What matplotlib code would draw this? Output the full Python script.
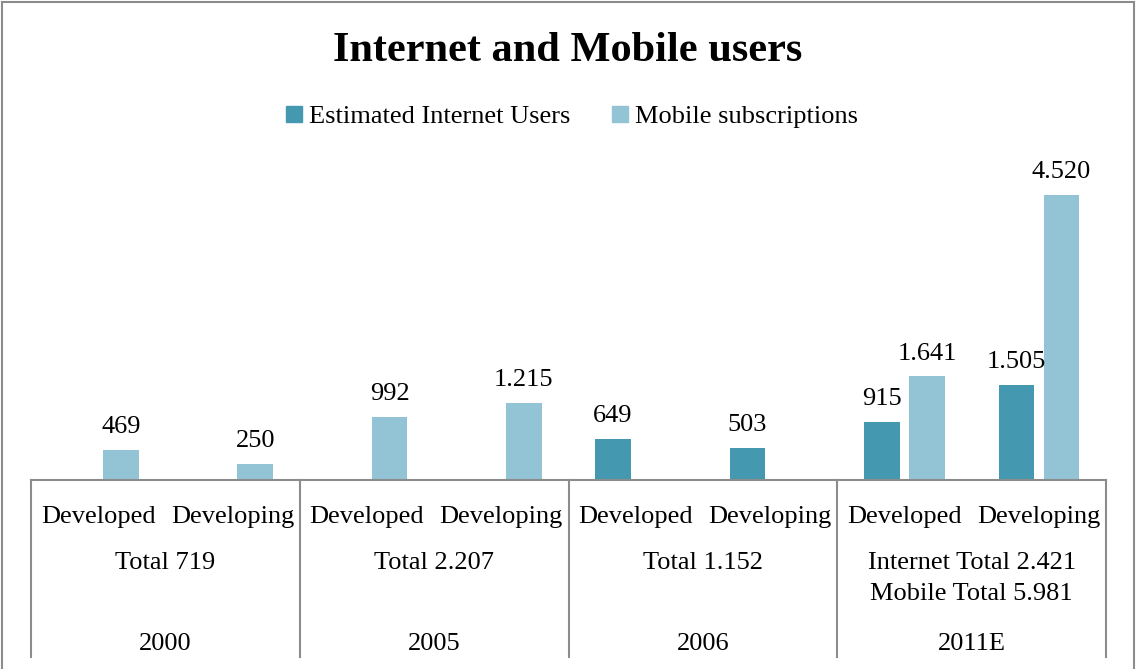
import numpy as np
import matplotlib
matplotlib.use("Agg")
import matplotlib.pyplot as plt
import matplotlib.patches as patches
from matplotlib.lines import Line2D

plt.rcParams["font.family"] = ["Liberation Serif", "DejaVu Serif"]

# values in millions, one slot per (year, group)
groups = ["Developed", "Developing"] * 4
years = ["2000", "2005", "2006", "2011E"]
totals = ["Total 719", "Total 2.207", "Total 1.152",
          "Internet Total 2.421\nMobile Total 5.981"]
internet = [np.nan, np.nan, np.nan, np.nan, 649, 503, 915, 1505]
mobile = [469, 250, 992, 1215, np.nan, np.nan, 1641, 4520]

c_internet = "#4499B0"
c_mobile = "#93C4D5"
grid_c = "#8C8C8C"

W, H = 1136, 669
fig = plt.figure(figsize=(W / 100, H / 100), dpi=100, facecolor="white")

# plot area: x from 31 to 1106 px, zero line at y=480 px
left, right, base, top = 31, 1106, 480, 160
ax = fig.add_axes([left / W, 1 - base / H, (right - left) / W, (base - top) / H])
ax.set_xlim(0, 8)
ax.set_ylim(0, (base - top) / 0.0631)
for s in ["left", "right", "top"]:
    ax.spines[s].set_visible(False)
ax.spines["bottom"].set_color(grid_c)
ax.spines["bottom"].set_linewidth(1.5)
ax.set_xticks([])
ax.set_yticks([])

x = np.arange(8) + 0.5
off, bw = 0.168, 0.264
ax.bar(x - off, internet, bw, color=c_internet, label="Estimated Internet Users")
ax.bar(x + off, mobile, bw, color=c_mobile, label="Mobile subscriptions")


def fmt(v):
    return "{:,}".format(int(v)).replace(",", ".")


for xs, vals in [(x - off, internet), (x + off, mobile)]:
    for xi, v in zip(xs, vals):
        if np.isnan(v):
            continue
        ax.annotate(fmt(v), (xi, v), xytext=(0, 12.2), textcoords="offset points",
                    ha="center", va="baseline", fontsize=19)

# category table under the axis
tr = ax.get_xaxis_transform()
span = base - top
bottom_frac = (base - 657) / span
for xv in [0, 2, 4, 6, 8]:
    ax.plot([xv, xv], [0, bottom_frac], color=grid_c, lw=1.5, transform=tr,
            clip_on=False)

for xi, g in zip(x, groups):
    ax.text(xi, (base - 517) / span, g, transform=tr, ha="center", va="center",
            fontsize=19)
for i, (t, yr) in enumerate(zip(totals, years)):
    ax.text(2 * i + 1, (base - 552) / span, t, transform=tr, ha="center", va="top",
            fontsize=19, linespacing=1.55)
    ax.text(2 * i + 1, (base - 644) / span, yr, transform=tr, ha="center",
            va="center", fontsize=19)

fig.text(568 / W, 1 - 51 / H, "Internet and Mobile users", ha="center",
         va="center", fontsize=30.5, fontweight="bold")

handles = [patches.Patch(color=c_internet), patches.Patch(color=c_mobile)]
fig.legend(handles, ["Estimated Internet Users", "Mobile subscriptions"],
           loc="center", bbox_to_anchor=(572 / W, 1 - 117 / H), ncol=2,
           frameon=False, fontsize=19, handlelength=0.6, handleheight=0.6,
           handletextpad=0.25, columnspacing=1.6, borderpad=0)

# outer frame (left, top, right edges)
fx = lambda p: p / W
fy = lambda p: 1 - p / H
fig.add_artist(Line2D([fx(1.5), fx(1.5)], [fy(1.5), 0], color=grid_c, lw=1.5))
fig.add_artist(Line2D([fx(1.5), fx(1133.5)], [fy(1.5), fy(1.5)], color=grid_c, lw=1.5))
fig.add_artist(Line2D([fx(1133.5), fx(1133.5)], [fy(1.5), 0], color=grid_c, lw=1.5))

fig.savefig("out.png", dpi=100, facecolor="white")
